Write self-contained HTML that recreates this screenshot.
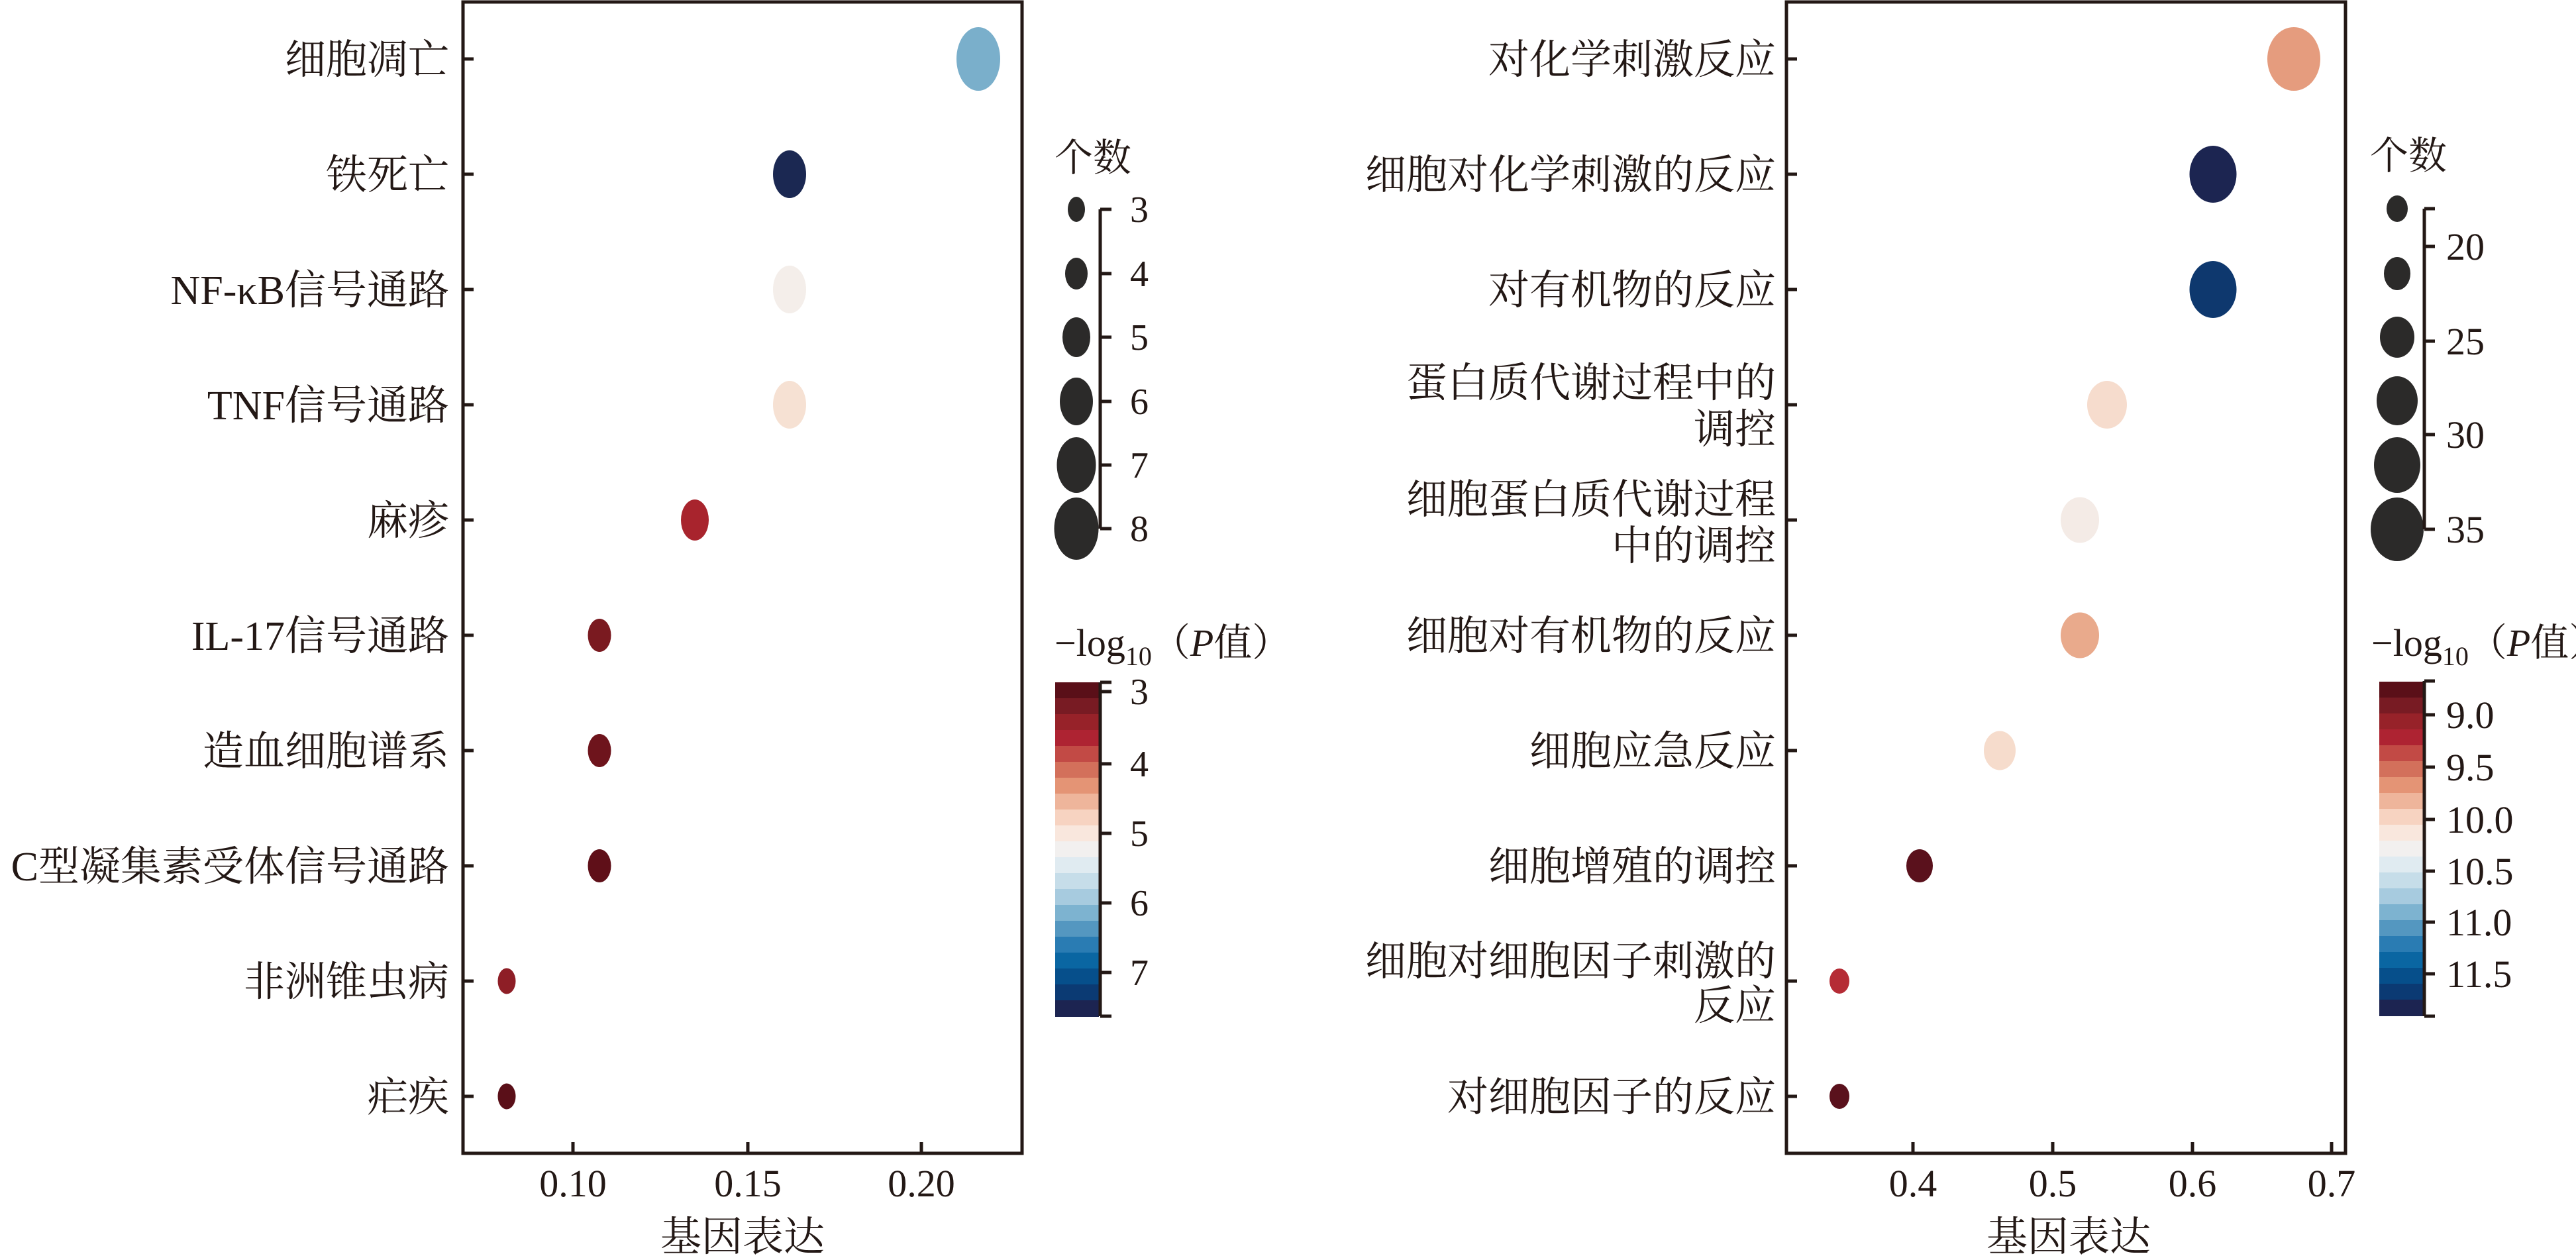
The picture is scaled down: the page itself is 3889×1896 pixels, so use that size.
<!DOCTYPE html>
<html><head><meta charset="utf-8"><style>
html,body{margin:0;padding:0;background:#fff;}
svg{display:block;}
text{font-family:"Liberation Serif","Noto Serif CJK SC",serif;fill:#231815;}
</style></head><body>
<svg width="3889" height="1896" viewBox="0 0 3889 1896" xmlns="http://www.w3.org/2000/svg">
<defs>
<g id="cbar">
<rect x="0" y="0" width="66" height="25" fill="#5a0f18"/>
<rect x="0" y="24" width="66" height="25" fill="#781b23"/>
<rect x="0" y="48" width="66" height="25" fill="#972229"/>
<rect x="0" y="72" width="66" height="25" fill="#ae2332"/>
<rect x="0" y="96" width="66" height="25" fill="#c24a45"/>
<rect x="0" y="120" width="66" height="25" fill="#d3705b"/>
<rect x="0" y="144" width="66" height="25" fill="#e49475"/>
<rect x="0" y="168" width="66" height="25" fill="#eeb59b"/>
<rect x="0" y="192" width="66" height="25" fill="#f7d3c1"/>
<rect x="0" y="216" width="66" height="25" fill="#f9e7dd"/>
<rect x="0" y="240" width="66" height="25" fill="#f2f0ef"/>
<rect x="0" y="264" width="66" height="25" fill="#e0ebf1"/>
<rect x="0" y="288" width="66" height="25" fill="#c6dde9"/>
<rect x="0" y="312" width="66" height="25" fill="#a7cbdf"/>
<rect x="0" y="336" width="66" height="25" fill="#7db3d0"/>
<rect x="0" y="360" width="66" height="25" fill="#5497c0"/>
<rect x="0" y="384" width="66" height="25" fill="#2a7cb3"/>
<rect x="0" y="408" width="66" height="25" fill="#0a66a2"/>
<rect x="0" y="432" width="66" height="25" fill="#064f8b"/>
<rect x="0" y="456" width="66" height="25" fill="#0b3a73"/>
<rect x="0" y="480" width="66" height="25" fill="#1c2451"/>
</g>
</defs>

<!-- LEFT PLOT -->
<rect x="699" y="3" width="844" height="1738" fill="none" stroke="#231815" stroke-width="5"/>
<g stroke="#231815" stroke-width="5">
<line x1="699" y1="89" x2="715" y2="89"/><line x1="699" y1="263" x2="715" y2="263"/>
<line x1="699" y1="437" x2="715" y2="437"/><line x1="699" y1="611" x2="715" y2="611"/>
<line x1="699" y1="785" x2="715" y2="785"/><line x1="699" y1="959" x2="715" y2="959"/>
<line x1="699" y1="1133" x2="715" y2="1133"/><line x1="699" y1="1307" x2="715" y2="1307"/>
<line x1="699" y1="1481" x2="715" y2="1481"/><line x1="699" y1="1655" x2="715" y2="1655"/>
<line x1="865" y1="1741" x2="865" y2="1724"/><line x1="1129" y1="1741" x2="1129" y2="1724"/><line x1="1391" y1="1741" x2="1391" y2="1724"/>
</g>
<g font-size="62" text-anchor="end">
<text x="678" y="111">细胞凋亡</text>
<text x="678" y="285">铁死亡</text>
<text x="678" y="459">NF-κB信号通路</text>
<text x="678" y="633">TNF信号通路</text>
<text x="678" y="807">麻疹</text>
<text x="678" y="981">IL-17信号通路</text>
<text x="678" y="1155">造血细胞谱系</text>
<text x="678" y="1329">C型凝集素受体信号通路</text>
<text x="678" y="1503">非洲锥虫病</text>
<text x="678" y="1677">疟疾</text>
</g>
<g font-size="58" text-anchor="middle">
<text x="865" y="1806">0.10</text><text x="1129" y="1806">0.15</text><text x="1391" y="1806">0.20</text>
</g>
<text x="1121" y="1888" font-size="62" text-anchor="middle">基因表达</text>
<ellipse cx="1477" cy="89" rx="33" ry="48" fill="#7aafcb"/>
<ellipse cx="1192" cy="263" rx="25" ry="36" fill="#1b2852"/>
<ellipse cx="1192" cy="437" rx="25" ry="36" fill="#f4eeea"/>
<ellipse cx="1192" cy="611" rx="25" ry="36" fill="#f6e1d3"/>
<ellipse cx="1049" cy="785" rx="21" ry="31" fill="#a8242d"/>
<ellipse cx="905" cy="959" rx="17.5" ry="25" fill="#7a1a20"/>
<ellipse cx="905" cy="1133" rx="17.5" ry="25" fill="#6e141c"/>
<ellipse cx="905" cy="1307" rx="17.5" ry="25" fill="#5f0f18"/>
<ellipse cx="765" cy="1481" rx="13.5" ry="19.5" fill="#8e1e26"/>
<ellipse cx="765" cy="1655" rx="13.5" ry="19.5" fill="#5a0f18"/>

<!-- left size legend -->
<text x="1592" y="258" font-size="58">个数</text>
<g fill="#2b2a29">
<ellipse cx="1625" cy="316" rx="13" ry="19"/>
<ellipse cx="1625" cy="413" rx="17" ry="24"/>
<ellipse cx="1625" cy="509" rx="21" ry="30"/>
<ellipse cx="1625" cy="606" rx="25" ry="36"/>
<ellipse cx="1625" cy="702" rx="29.5" ry="42"/>
<ellipse cx="1625" cy="798" rx="33.5" ry="47"/>
</g>
<g stroke="#231815" stroke-width="5">
<line x1="1661" y1="316" x2="1661" y2="798"/>
<line x1="1661" y1="316" x2="1678" y2="316"/><line x1="1661" y1="413" x2="1678" y2="413"/>
<line x1="1661" y1="509" x2="1678" y2="509"/><line x1="1661" y1="606" x2="1678" y2="606"/>
<line x1="1661" y1="702" x2="1678" y2="702"/><line x1="1661" y1="798" x2="1678" y2="798"/>
</g>
<g font-size="56">
<text x="1706" y="335">3</text><text x="1706" y="432">4</text><text x="1706" y="528">5</text>
<text x="1706" y="625">6</text><text x="1706" y="721">7</text><text x="1706" y="817">8</text>
</g>
<!-- left colorbar -->
<text x="1592" y="990" font-size="58">−log<tspan font-size="40" dy="14">10</tspan><tspan dy="-14">（</tspan><tspan font-style="italic">P</tspan>值）</text>
<use href="#cbar" x="1593" y="1030"/>
<g stroke="#231815" stroke-width="5">
<line x1="1661" y1="1030" x2="1661" y2="1534"/>
<line x1="1661" y1="1030" x2="1678" y2="1030"/><line x1="1661" y1="1044" x2="1678" y2="1044"/>
<line x1="1661" y1="1153" x2="1678" y2="1153"/><line x1="1661" y1="1258" x2="1678" y2="1258"/>
<line x1="1661" y1="1363" x2="1678" y2="1363"/><line x1="1661" y1="1468" x2="1678" y2="1468"/>
<line x1="1661" y1="1534" x2="1678" y2="1534"/>
</g>
<g font-size="56">
<text x="1706" y="1063">3</text><text x="1706" y="1172">4</text><text x="1706" y="1277">5</text>
<text x="1706" y="1382">6</text><text x="1706" y="1487">7</text>
</g>

<!-- RIGHT PLOT -->
<rect x="2697" y="3" width="844" height="1738" fill="none" stroke="#231815" stroke-width="5"/>
<g stroke="#231815" stroke-width="5">
<line x1="2697" y1="89" x2="2713" y2="89"/><line x1="2697" y1="263" x2="2713" y2="263"/>
<line x1="2697" y1="437" x2="2713" y2="437"/><line x1="2697" y1="611" x2="2713" y2="611"/>
<line x1="2697" y1="785" x2="2713" y2="785"/><line x1="2697" y1="959" x2="2713" y2="959"/>
<line x1="2697" y1="1133" x2="2713" y2="1133"/><line x1="2697" y1="1307" x2="2713" y2="1307"/>
<line x1="2697" y1="1481" x2="2713" y2="1481"/><line x1="2697" y1="1655" x2="2713" y2="1655"/>
<line x1="2888" y1="1741" x2="2888" y2="1724"/><line x1="3099" y1="1741" x2="3099" y2="1724"/>
<line x1="3310" y1="1741" x2="3310" y2="1724"/><line x1="3520" y1="1741" x2="3520" y2="1724"/>
</g>
<g font-size="62" text-anchor="end">
<text x="2681" y="111">对化学刺激反应</text>
<text x="2681" y="285">细胞对化学刺激的反应</text>
<text x="2681" y="459">对有机物的反应</text>
<text x="2681" y="599">蛋白质代谢过程中的</text>
<text x="2681" y="669">调控</text>
<text x="2681" y="775">细胞蛋白质代谢过程</text>
<text x="2681" y="845">中的调控</text>
<text x="2681" y="981">细胞对有机物的反应</text>
<text x="2681" y="1155">细胞应急反应</text>
<text x="2681" y="1329">细胞增殖的调控</text>
<text x="2681" y="1472">细胞对细胞因子刺激的</text>
<text x="2681" y="1539">反应</text>
<text x="2681" y="1677">对细胞因子的反应</text>
</g>
<g font-size="58" text-anchor="middle">
<text x="2888" y="1806">0.4</text><text x="3099" y="1806">0.5</text><text x="3310" y="1806">0.6</text><text x="3520" y="1806">0.7</text>
</g>
<text x="3123" y="1888" font-size="62" text-anchor="middle">基因表达</text>
<ellipse cx="3463" cy="89" rx="40" ry="48" fill="#e59c7e"/>
<ellipse cx="3341" cy="263" rx="35.5" ry="43" fill="#1c2551"/>
<ellipse cx="3341" cy="437" rx="35.5" ry="43" fill="#0e386e"/>
<ellipse cx="3181" cy="611" rx="30" ry="36" fill="#f6dccd"/>
<ellipse cx="3140" cy="785" rx="29" ry="34.5" fill="#f4ebe6"/>
<ellipse cx="3140" cy="959" rx="29" ry="34.5" fill="#e9aa8c"/>
<ellipse cx="3019" cy="1133" rx="24" ry="29.5" fill="#f6dccc"/>
<ellipse cx="2898" cy="1307" rx="20" ry="25" fill="#5a111c"/>
<ellipse cx="2777" cy="1481" rx="15" ry="19" fill="#b52c35"/>
<ellipse cx="2777" cy="1655" rx="15" ry="19" fill="#5a111c"/>

<!-- right size legend -->
<text x="3578" y="255" font-size="58">个数</text>
<g fill="#2b2a29">
<ellipse cx="3619" cy="315" rx="16" ry="20"/>
<ellipse cx="3619" cy="413" rx="20" ry="25"/>
<ellipse cx="3619" cy="509" rx="26" ry="31"/>
<ellipse cx="3619" cy="605" rx="31" ry="37"/>
<ellipse cx="3619" cy="702" rx="35" ry="42"/>
<ellipse cx="3619" cy="799" rx="40" ry="48"/>
</g>
<g stroke="#231815" stroke-width="5">
<line x1="3660" y1="315" x2="3660" y2="799"/>
<line x1="3660" y1="315" x2="3676" y2="315"/><line x1="3660" y1="372" x2="3676" y2="372"/>
<line x1="3660" y1="515" x2="3676" y2="515"/><line x1="3660" y1="656" x2="3676" y2="656"/>
<line x1="3660" y1="799" x2="3676" y2="799"/>
</g>
<g font-size="58">
<text x="3693" y="392">20</text><text x="3693" y="535">25</text><text x="3693" y="676">30</text><text x="3693" y="819">35</text>
</g>
<!-- right colorbar -->
<text x="3580" y="990" font-size="58">−log<tspan font-size="40" dy="14">10</tspan><tspan dy="-14">（</tspan><tspan font-style="italic">P</tspan>值）</text>
<use href="#cbar" x="3592" y="1029"/>
<g stroke="#231815" stroke-width="5">
<line x1="3660" y1="1028" x2="3660" y2="1534"/>
<line x1="3660" y1="1028" x2="3676" y2="1028"/><line x1="3660" y1="1079" x2="3676" y2="1079"/>
<line x1="3660" y1="1158" x2="3676" y2="1158"/><line x1="3660" y1="1237" x2="3676" y2="1237"/>
<line x1="3660" y1="1315" x2="3676" y2="1315"/><line x1="3660" y1="1392" x2="3676" y2="1392"/>
<line x1="3660" y1="1470" x2="3676" y2="1470"/><line x1="3660" y1="1534" x2="3676" y2="1534"/>
</g>
<g font-size="58">
<text x="3693" y="1099">9.0</text><text x="3693" y="1178">9.5</text><text x="3693" y="1257">10.0</text>
<text x="3693" y="1335">10.5</text><text x="3693" y="1412">11.0</text><text x="3693" y="1490">11.5</text>
</g>
</svg>
</body></html>
